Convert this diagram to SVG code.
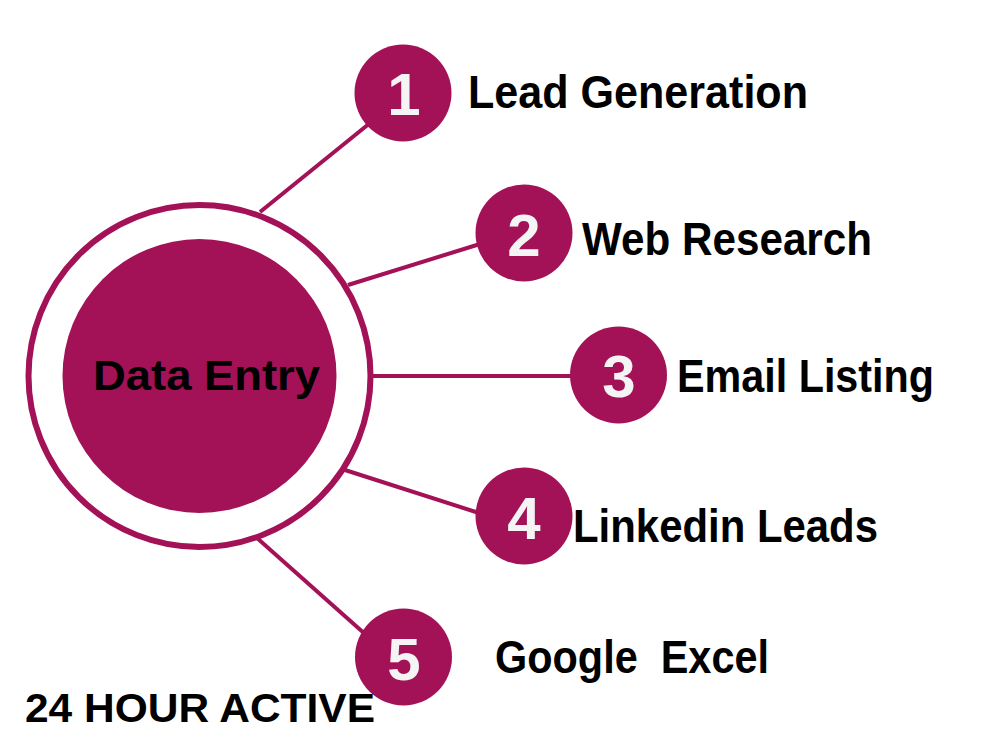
<svg xmlns="http://www.w3.org/2000/svg" width="1000" height="750" viewBox="0 0 1000 750">
<style>
.fill{fill:#A31157}
.conn{stroke:#A31157;stroke-width:4;stroke-linecap:butt;fill:none}
.num{font-family:"Liberation Sans",Arial,sans-serif;font-weight:bold;font-size:60px;fill:#F4F4F4;text-anchor:middle}
.lbl{font-family:"Liberation Sans",Arial,sans-serif;font-weight:bold;font-size:46px;fill:#000}
</style>
<rect width="1000" height="750" fill="#FFFFFF"/>
<g id="connectors">
<line class="conn" x1="260" y1="212" x2="370" y2="123"/>
<line class="conn" x1="348" y1="285" x2="480" y2="244"/>
<line class="conn" x1="371" y1="376" x2="572" y2="376"/>
<line class="conn" x1="345" y1="470" x2="479" y2="513"/>
<line class="conn" x1="257" y1="538" x2="365" y2="634"/>
</g>
<g id="center">
<circle cx="199.5" cy="376" r="171" fill="none" stroke="#A31157" stroke-width="6"/>
<circle class="fill" cx="199.5" cy="376" r="137"/>
<text x="93" y="390" font-family="'Liberation Sans',Arial,sans-serif" font-weight="bold" font-size="42" fill="#000" textLength="227" lengthAdjust="spacingAndGlyphs">Data Entry</text>
</g>
<g id="node1">
<circle class="fill" cx="403" cy="93" r="48.5"/>
<text class="num" x="404" y="115">1</text>
<text class="lbl" x="468" y="108" textLength="340" lengthAdjust="spacingAndGlyphs">Lead Generation</text>
</g>
<g id="node2">
<circle class="fill" cx="524" cy="233" r="48.5"/>
<text class="num" x="524" y="256">2</text>
<text class="lbl" x="582" y="255" textLength="290" lengthAdjust="spacingAndGlyphs">Web Research</text>
</g>
<g id="node3">
<circle class="fill" cx="618.5" cy="375" r="48.5"/>
<text class="num" x="619" y="397">3</text>
<text class="lbl" x="677" y="392" textLength="257" lengthAdjust="spacingAndGlyphs">Email Listing</text>
</g>
<g id="node4">
<circle class="fill" cx="524" cy="516" r="48.5"/>
<text class="num" x="524" y="539">4</text>
<text class="lbl" x="573" y="542" textLength="305" lengthAdjust="spacingAndGlyphs">Linkedin Leads</text>
</g>
<g id="node5">
<circle class="fill" cx="403.5" cy="657" r="48.5"/>
<text class="num" x="404" y="680">5</text>
<text class="lbl" x="495" y="673" textLength="274" lengthAdjust="spacingAndGlyphs" xml:space="preserve">Google  Excel</text>
</g>
<g id="footer">
<text x="25" y="722" font-family="'Liberation Sans',Arial,sans-serif" font-weight="bold" font-size="41" fill="#000" textLength="350" lengthAdjust="spacingAndGlyphs">24 HOUR ACTIVE</text>
</g>
</svg>
